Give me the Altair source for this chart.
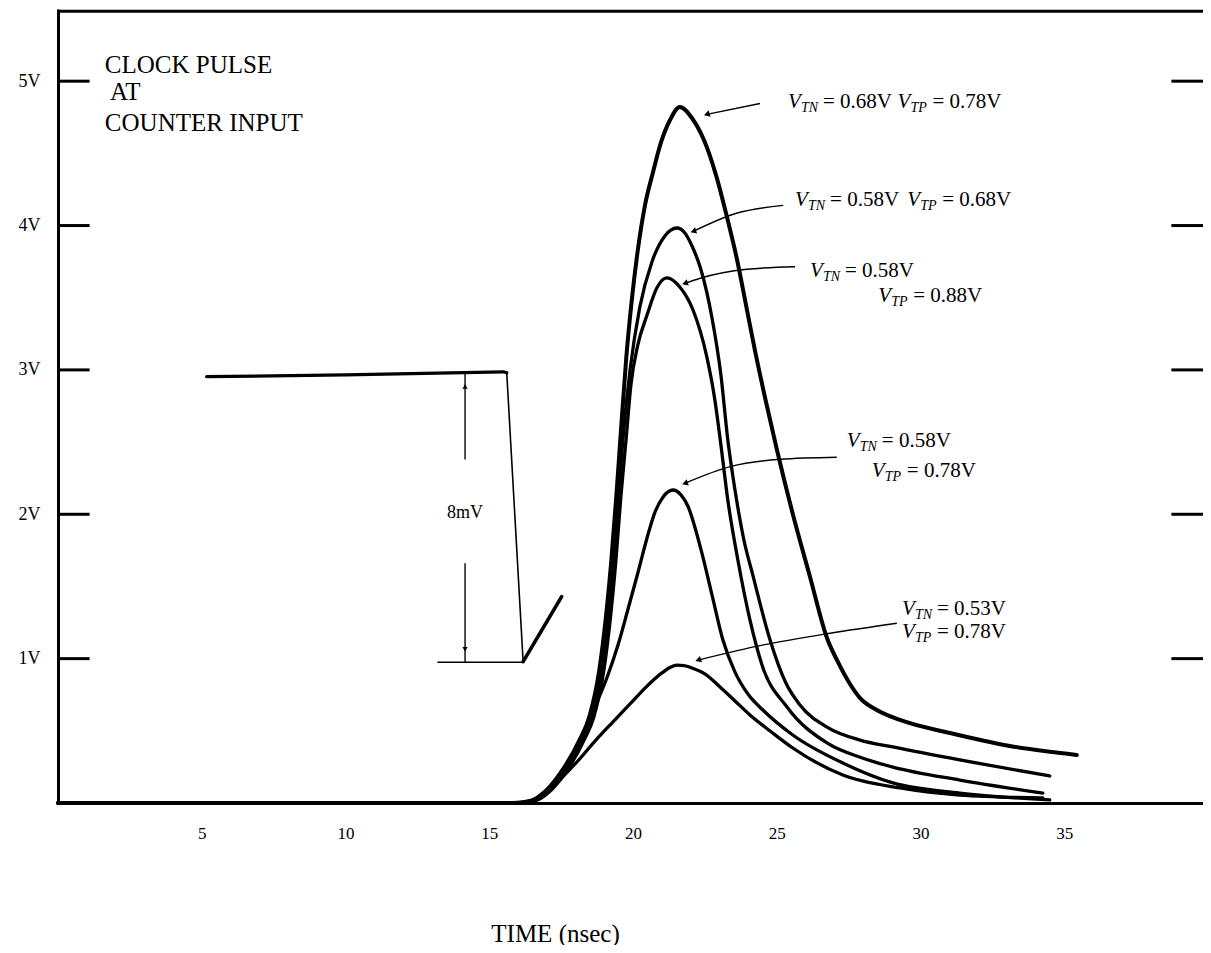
import altair as alt
import pandas as pd

# ---------------- data ----------------
X_TICKS = [5, 10, 15, 20, 25, 30, 35]
Y_TICKS = [1, 2, 3, 4, 5]

A_X = [0, 15.83, 16.42, 17.0, 17.55, 18.14, 18.48, 18.83, 19.06, 19.24, 19.42, 19.56, 19.77, 19.96, 20.17, 20.42, 20.7, 20.97, 21.29, 21.63, 22.05, 22.47, 22.89, 23.27, 23.62, 23.93, 24.24, 24.59, 25.01, 25.57, 26.16, 26.75, 27.13, 27.55, 27.9, 28.42, 29.29, 31.03, 33.11, 35.44]
A_Y = [0, 0, 0.014, 0.09, 0.229, 0.436, 0.596, 0.921, 1.288, 1.662, 2.12, 2.515, 3.09, 3.484, 3.831, 4.142, 4.371, 4.572, 4.731, 4.821, 4.745, 4.592, 4.349, 4.059, 3.765, 3.453, 3.138, 2.812, 2.445, 1.995, 1.566, 1.143, 0.977, 0.824, 0.727, 0.651, 0.575, 0.485, 0.395, 0.333]

B_X = [0, 15.9, 16.5, 17.08, 17.64, 18.24, 18.58, 18.92, 19.15, 19.32, 19.5, 19.65, 19.9, 20.24, 20.66, 21.11, 21.53, 21.8, 22.05, 22.37, 22.75, 23.06, 23.3, 23.55, 23.86, 24.17, 24.77, 25.32, 25.81, 26.75, 27.9, 29.04, 31.37, 34.5]
B_Y = [0, 0, 0.014, 0.09, 0.229, 0.436, 0.596, 0.921, 1.288, 1.662, 2.12, 2.515, 3.0, 3.436, 3.748, 3.928, 3.983, 3.95, 3.86, 3.692, 3.36, 2.965, 2.515, 2.168, 1.822, 1.579, 1.129, 0.831, 0.679, 0.526, 0.436, 0.388, 0.298, 0.187]

C_X = [0, 15.97, 16.58, 17.16, 17.72, 18.3, 18.64, 18.99, 19.22, 19.4, 19.58, 19.76, 19.93, 20.17, 20.49, 20.83, 21.18, 21.63, 22.09, 22.57, 22.85, 23.06, 23.3, 23.65, 24.07, 24.49, 25.36, 26.75, 28.0, 29.04, 31.37, 34.26]
C_Y = [0, 0, 0.014, 0.09, 0.229, 0.436, 0.596, 0.921, 1.288, 1.662, 2.12, 2.515, 2.896, 3.173, 3.38, 3.567, 3.637, 3.574, 3.415, 3.09, 2.792, 2.48, 2.099, 1.683, 1.268, 0.956, 0.665, 0.416, 0.31, 0.249, 0.159, 0.069]

D_X = [0, 15.86, 16.46, 17.05, 17.62, 18.2, 18.43, 18.78, 19.13, 19.48, 19.82, 20.17, 20.49, 20.77, 21.05, 21.39, 21.67, 21.91, 22.37, 22.75, 23.13, 23.55, 24.0, 24.52, 25.56, 27.3, 29.04, 31.37, 34.5]
D_Y = [0, 0, 0.014, 0.09, 0.229, 0.436, 0.561, 0.714, 0.887, 1.094, 1.337, 1.593, 1.836, 2.016, 2.12, 2.168, 2.134, 2.057, 1.753, 1.441, 1.129, 0.907, 0.755, 0.644, 0.471, 0.277, 0.139, 0.069, 0.021]

E_X = [0, 15.88, 16.48, 17.05, 17.55, 18.05, 18.68, 19.3, 19.9, 20.49, 21.01, 21.3, 21.53, 21.78, 21.98, 22.5, 23.03, 23.55, 24.07, 24.77, 25.56, 27.3, 29.29, 31.37, 34.26]
E_Y = [0, 0, 0.014, 0.09, 0.18, 0.284, 0.429, 0.561, 0.686, 0.81, 0.901, 0.94, 0.955, 0.952, 0.94, 0.894, 0.804, 0.707, 0.61, 0.499, 0.381, 0.194, 0.104, 0.055, 0.035]

# clock pulse trace (flat top, fall, recovery)
PULSE_TOP_X = [5.17, 10.0, 15.49, 15.61]
PULSE_TOP_Y = [2.953, 2.965, 2.987, 2.98]
PULSE_FALL_X = [15.61, 16.18]
PULSE_FALL_Y = [2.98, 0.979]
PULSE_RISE_X = [16.18, 17.52]
PULSE_RISE_Y = [0.979, 1.43]

# 8mV dimension
DIM_X = 14.16
DIM_UPPER = [2.975, 2.38]
DIM_LOWER = [1.66, 0.975]
DIM_BASE_X = [13.2, 16.2]
DIM_BASE_Y = 0.975
DIM_TEXT = "8mV"
DIM_TEXT_Y = 2.01

# title block
TITLE_LINES = ["CLOCK PULSE", "AT", "COUNTER INPUT"]
TITLE_X = [1.63, 1.81, 1.63]
TITLE_Y = [5.112, 4.925, 4.71]

# curve labels: V + subscript + value
LAB_X = [25.39, 29.2, 25.64, 29.54, 26.16, 28.53, 27.44, 28.31, 29.36, 29.36]
LAB_Y = [4.855, 4.855, 4.175, 4.175, 3.685, 3.51, 2.505, 2.30, 1.345, 1.185]
LAB_SUB = ["TN", "TP", "TN", "TP", "TN", "TP", "TN", "TP", "TN", "TP"]
LAB_VAL = ["= 0.68V", "= 0.78V", "= 0.58V", "= 0.68V", "= 0.58V", "= 0.88V",
           "= 0.58V", "= 0.78V", "= 0.53V", "= 0.78V"]

# label arrows (tail -> head)
ARROWS_X = [
    [24.42, 22.57],
    [25.23, 23.6, 22.1],
    [25.64, 23.96, 22.34, 21.81],
    [27.09, 25.12, 23.38, 21.81],
    [29.18, 26.86, 24.54, 22.27],
]
ARROWS_Y = [
    [4.845, 4.77],
    [4.14, 4.085, 3.96],
    [3.715, 3.697, 3.635, 3.60],
    [2.395, 2.381, 2.33, 2.215],
    [1.245, 1.176, 1.095, 0.99],
]

X_DOMAIN = [0, 39.83]
Y_DOMAIN = [0, 5.5]

# ---------------- tables ----------------
def series_table(named):
    rows = []
    for name, xs_, ys_ in named:
        for i, (a, b) in enumerate(zip(xs_, ys_)):
            rows.append({"s": name, "i": i, "x": a, "y": b})
    return pd.DataFrame(rows)


curves_main = series_table([("A", A_X, A_Y)])
curves_other = series_table([("B", B_X, B_Y), ("C", C_X, C_Y), ("D", D_X, D_Y), ("E", E_X, E_Y)])
pulse_top = series_table([("top", PULSE_TOP_X, PULSE_TOP_Y)])
pulse_fall = series_table([("fall", PULSE_FALL_X, PULSE_FALL_Y)])
pulse_rise = series_table([("rise", PULSE_RISE_X, PULSE_RISE_Y)])

dim_rules = pd.DataFrame({
    "x": [DIM_X, DIM_X, DIM_BASE_X[0]],
    "x2": [DIM_X, DIM_X, DIM_BASE_X[1]],
    "y": [DIM_UPPER[0], DIM_LOWER[0], DIM_BASE_Y],
    "y2": [DIM_UPPER[1], DIM_LOWER[1], DIM_BASE_Y],
})
dim_up = pd.DataFrame({"x": [DIM_X], "y": [DIM_UPPER[0] - 0.09]})
dim_down = pd.DataFrame({"x": [DIM_X], "y": [DIM_LOWER[1] + 0.09]})
dim_text = pd.DataFrame({"x": [DIM_X], "y": [DIM_TEXT_Y], "t": [DIM_TEXT]})

title_df = pd.DataFrame({"x": TITLE_X, "y": TITLE_Y, "t": TITLE_LINES})
lab_df = pd.DataFrame({"x": LAB_X, "y": LAB_Y, "sub": LAB_SUB, "val": LAB_VAL, "v": ["V"] * len(LAB_X)})

arrows = series_table([(str(k), a, b) for k, (a, b) in enumerate(zip(ARROWS_X, ARROWS_Y))])
heads = pd.DataFrame({"x": [a[-1] for a in ARROWS_X], "y": [b[-1] for b in ARROWS_Y]})

ticks_df = pd.DataFrame({
    "y": Y_TICKS * 2,
    "x": [X_DOMAIN[0]] * len(Y_TICKS) + [X_DOMAIN[1] - 1.1] * len(Y_TICKS),
    "x2": [X_DOMAIN[0] + 1.1] * len(Y_TICKS) + [X_DOMAIN[1]] * len(Y_TICKS),
})
top_df = pd.DataFrame({"x": [X_DOMAIN[0]], "x2": [X_DOMAIN[1]], "y": [Y_DOMAIN[1] - 0.015]})

# ---------------- encodings ----------------
FONT = "Liberation Serif"
INK = "#000000"

xs = alt.Scale(domain=X_DOMAIN, nice=False, zero=False)
ys = alt.Scale(domain=Y_DOMAIN, nice=False, zero=False)

x_axis = alt.Axis(values=X_TICKS, title="TIME (nsec)", grid=False, ticks=False,
                  domainColor=INK, domainWidth=3, labelFont=FONT, labelFontSize=17,
                  labelColor=INK, labelPadding=22, titleFont=FONT, titleFontSize=25,
                  titleFontWeight="normal", titleColor=INK, titleX=497, titleY=130,
                  titleAlign="center", titleBaseline="middle", labelFlush=False)
y_axis = alt.Axis(values=Y_TICKS, title="", grid=False, ticks=False, domainColor=INK,
                  domainWidth=3, labelFont=FONT, labelFontSize=18, labelColor=INK,
                  labelPadding=18, labelExpr="datum.value + 'V'", labelFlush=False)


def X(f="x"):
    return alt.X(f + ":Q", scale=xs, axis=x_axis)


def Y(f="y"):
    return alt.Y(f + ":Q", scale=ys, axis=y_axis)


def trace(df, width, interp="monotone"):
    return alt.Chart(df).mark_line(
        interpolate=interp, color=INK, strokeWidth=width, strokeCap="round", strokeJoin="round"
    ).encode(x=X(), y=Y(), detail="s:N", order="i:Q")


curve_a = trace(curves_main, 4.0)
curve_rest = trace(curves_other, 3.3)
pulse_layers = [trace(pulse_top, 3.2, "linear"), trace(pulse_fall, 1.6, "linear"),
                trace(pulse_rise, 3.6, "linear")]

dim_layer = alt.Chart(dim_rules).mark_rule(color=INK, strokeWidth=1.4).encode(
    x=X(), x2="x2:Q", y=Y(), y2="y2:Q")
dim_up_layer = alt.Chart(dim_up).mark_point(shape="triangle-up", filled=True, color=INK, size=28,
                                            opacity=1).encode(x=X(), y=Y())
dim_down_layer = alt.Chart(dim_down).mark_point(shape="triangle-down", filled=True, color=INK, size=28,
                                                opacity=1).encode(x=X(), y=Y())
dim_text_layer = alt.Chart(dim_text).mark_text(font=FONT, fontSize=18, color=INK).encode(
    x=X(), y=Y(), text="t:N")

title_layer = alt.Chart(title_df).mark_text(font=FONT, fontSize=25, color=INK, align="left",
                                            baseline="middle").encode(x=X(), y=Y(), text="t:N")

lab_v = alt.Chart(lab_df).mark_text(font=FONT, fontSize=21, fontStyle="italic", color=INK,
                                    align="left", baseline="middle").encode(x=X(), y=Y(), text="v:N")
lab_sub = alt.Chart(lab_df).mark_text(font=FONT, fontSize=14, fontStyle="italic", color=INK,
                                      align="left", baseline="middle", dx=13, dy=6).encode(
    x=X(), y=Y(), text="sub:N")
lab_val = alt.Chart(lab_df).mark_text(font=FONT, fontSize=21, color=INK, align="left",
                                      baseline="middle", dx=35).encode(x=X(), y=Y(), text="val:N")

arrow_layer = alt.Chart(arrows).mark_line(color=INK, strokeWidth=1.4, interpolate="monotone").encode(
    x=X(), y=Y(), detail="s:N", order="i:Q")
head_layer = alt.Chart(heads).mark_point(shape="triangle-left", filled=True, color=INK, size=45,
                                         angle=342, opacity=1).encode(x=X(), y=Y())

tick_layer = alt.Chart(ticks_df).mark_rule(color=INK, strokeWidth=3).encode(x=X(), x2="x2:Q", y=Y())
top_layer = alt.Chart(top_df).mark_rule(color=INK, strokeWidth=3).encode(x=X(), x2="x2:Q", y=Y())

chart = alt.layer(
    top_layer, tick_layer, *pulse_layers, dim_layer, dim_up_layer, dim_down_layer, dim_text_layer,
    arrow_layer, head_layer, curve_rest, curve_a, title_layer, lab_v, lab_sub, lab_val,
).properties(
    width=1145, height=794,
    padding={"left": 50, "top": 1, "right": 0, "bottom": 142},
    autosize=alt.AutoSizeParams(type="none"),
    background="white",
).configure_view(stroke="transparent")

chart.save("out.html", embed_options={"renderer": "svg", "actions": False})
